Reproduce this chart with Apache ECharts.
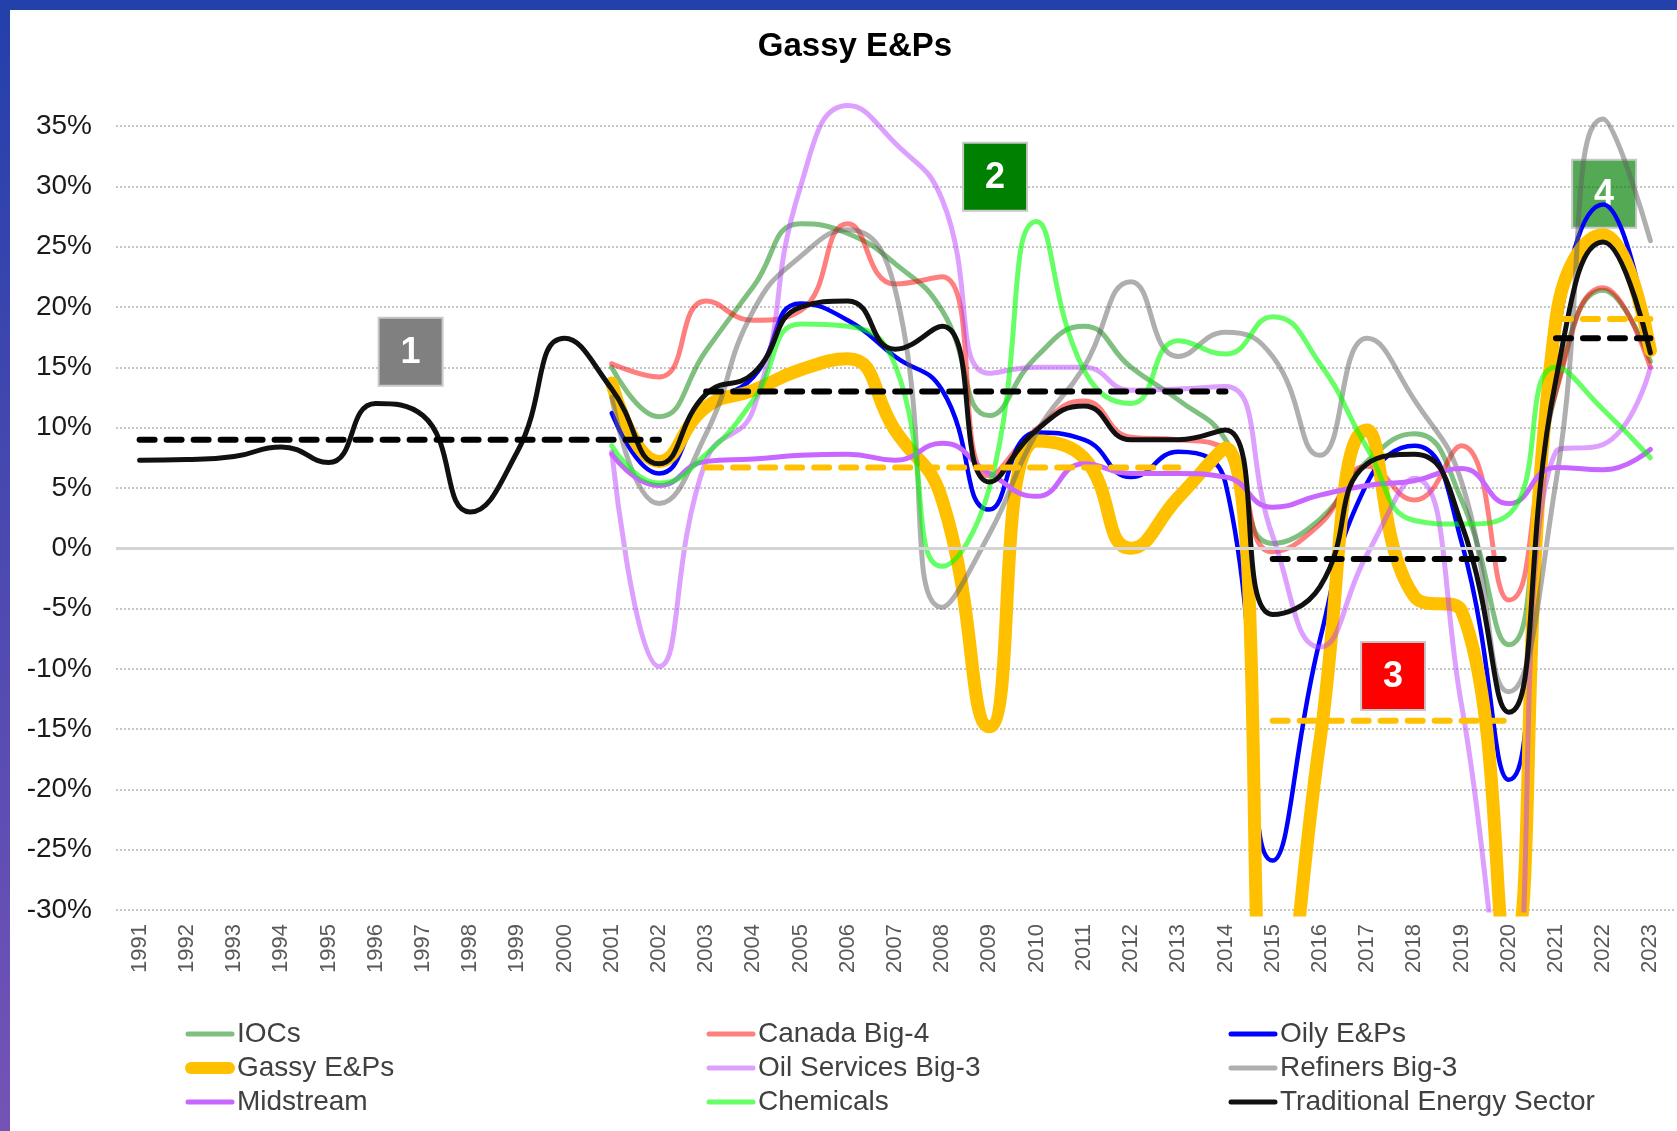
<!DOCTYPE html>
<html>
<head>
<meta charset="utf-8">
<title>Gassy E&amp;Ps</title>
<script src="https://cdn.jsdelivr.net/npm/echarts@6/dist/echarts.min.js"></script>
<style>
	html, body { margin: 0; padding: 0; }
	body {
		width: 1677px; height: 1131px; overflow: hidden; position: relative;
		background: linear-gradient(180deg, #2340ab 0%, #7553b6 100%);
	}
	#chart { position: absolute; left: 10px; top: 10px; width: 1667px; height: 1121px; background: #fff; }
</style>
</head>
<body>
<div id="chart"></div>
<script>
// categories (years)
var years = ['1991', '1992', '1993', '1994', '1995', '1996', '1997', '1998', '1999', '2000',
	'2001', '2002', '2003', '2004', '2005', '2006', '2007', '2008', '2009', '2010',
	'2011', '2012', '2013', '2014', '2015', '2016', '2017', '2018', '2019', '2020',
	'2021', '2022', '2023'];

// yearly values, % (1991 .. 2023)
var iocs = [null, null, null, null, null, null, null, null, null, null,
	15.0, 10.9, 16.4, 21.7, 26.9, 26.1, 23.6, 19.7, 11.0, 15.9,
	18.4, 15.0, 12.3, 9.0, 0.4, 2.4, 7.2, 9.5, 4.0, -8.0,
	13.0, 21.4, 15.5];
var canadaBig4 = [null, null, null, null, null, null, null, null, null, null,
	15.3, 14.2, 20.5, 18.9, 19.7, 26.9, 21.9, 22.5, 6.0, 9.9,
	12.2, 9.2, 9.0, 8.2, -0.3, 2.0, 6.8, 4.0, 8.5, -4.3,
	13.0, 21.6, 15.0];
var oilyEPs = [null, null, null, null, null, null, null, null, null, null,
	11.2, 6.2, 11.7, 14.2, 20.3, 18.9, 15.9, 13.1, 3.2, 9.6,
	9.0, 5.9, 8.0, 5.4, -25.9, -7.6, 5.4, 8.5, 0.5, -19.2,
	17.0, 28.5, 16.7];
var gassyEPs = [null, null, null, null, null, null, null, null, null, null,
	13.7, 7.2, 11.7, 13.1, 14.8, 15.7, 9.8, 4.0, -14.8, 8.9,
	7.5, 0.0, 4.2, 8.3, -45.0, -16.0, 9.8, -4.0, -5.2, -34.0,
	19.0, 26.0, 16.4];
var oilServices = [null, null, null, null, null, null, null, null, null, null,
	8.0, -9.8, 7.3, 11.5, 30.0, 36.7, 33.6, 28.9, 14.5, 15.0,
	15.0, 13.1, 13.2, 13.4, 1.0, -8.2, -0.5, 5.8, -13.0, -38.0,
	8.0, 8.6, 15.0];
var refiners = [null, null, null, null, null, null, null, null, null, null,
	12.5, 3.7, 9.5, 19.7, 24.2, 26.4, 21.5, -4.9, 1.2, 9.6,
	15.0, 22.1, 15.9, 17.9, 15.9, 7.7, 17.4, 12.3, 5.5, -11.9,
	5.5, 35.6, 25.5];
var midstream = [null, null, null, null, null, null, null, null, null, null,
	7.8, 5.2, 7.2, 7.4, 7.7, 7.8, 7.3, 8.7, 6.2, 4.3,
	7.0, 6.2, 6.2, 5.9, 3.4, 4.4, 5.2, 5.6, 6.6, 3.7,
	6.7, 6.5, 8.2];
var chemicals = [null, null, null, null, null, null, null, null, null, null,
	8.5, 5.4, 7.8, 12.3, 18.6, 18.4, 15.2, -1.5, 5.0, 27.1,
	14.8, 12.0, 17.2, 16.1, 19.2, 15.3, 8.3, 2.3, 2.0, 2.8,
	15.0, 11.5, 7.5];
var traditional = [7.3, 7.35, 7.6, 8.4, 7.1, 12.0, 11.0, 3.0, 8.0, 17.4,
	13.2, 7.0, 12.8, 14.5, 20.0, 20.5, 16.5, 18.4, 5.5, 9.8,
	11.8, 9.0, 9.0, 9.8, -5.5, -3.2, 7.0, 7.8, 2.0, -13.6,
	14.0, 25.4, 16.2];

// period averages: [first year, last year, level %]
var tradAverages = [['1991', '2002', 9.0], ['2003', '2014', 13.0], ['2015', '2020', -0.9], ['2021', '2023', 17.4]];
var gassyAverages = [['2003', '2013', 6.7], ['2015', '2020', -14.3], ['2021', '2023', 19.0]];

// numbered period boxes
var noteLabels = ['1', '2', '3', '4'];

var FONT = '"Liberation Sans", Arial, sans-serif';

var lineDefs = [
	{ name: 'IOCs', data: iocs, color: 'rgba(0,128,0,0.5)', width: 5 },
	{ name: 'Canada Big-4', data: canadaBig4, color: 'rgba(255,0,0,0.5)', width: 5 },
	{ name: 'Oily E&Ps', data: oilyEPs, color: '#0000ff', width: 4.5 },
	{ name: 'Gassy E&Ps', data: gassyEPs, color: '#ffc000', width: 13 },
	{ name: 'Oil Services Big-3', data: oilServices, color: 'rgba(187,65,255,0.5)', width: 5 },
	{ name: 'Refiners Big-3', data: refiners, color: 'rgba(96,96,96,0.5)', width: 5 },
	{ name: 'Midstream', data: midstream, color: '#c966ff', width: 5 },
	{ name: 'Chemicals', data: chemicals, color: 'rgba(0,255,0,0.6)', width: 5 },
	{ name: 'Traditional Energy Sector', data: traditional, color: '#111111', width: 5 }
];

// legend 图标: 圆头短线 (50x14 box)
var ICON_THIN = 'path://M0,0M50,14M3,4.5L47,4.5A2.5,2.5 0 0 1 47,9.5L3,9.5A2.5,2.5 0 0 1 3,4.5Z';
var ICON_THICK = 'path://M0,0M50,14M6,1L44,1A6,6 0 0 1 44,13L6,13A6,6 0 0 1 6,1Z';

function avgSeries(seg, color, idx) {
	var from = years.indexOf(seg[0]), to = years.indexOf(seg[1]);
	var d = years.map(function (y, i) { return (i >= from && i <= to) ? seg[2] : null; });
	return {
		name: 'avg' + idx,
		type: 'line',
		data: d,
		symbol: 'none',
		silent: true,
		z: 5,
		lineStyle: { color: color, width: 6, type: [15, 12], cap: 'round' }
	};
}

var series = lineDefs.map(function (s, i) {
	var o = {
		name: s.name,
		type: 'line',
		data: s.data,
		smooth: 0.5,
		symbol: 'none',
		connectNulls: false,
		silent: true,
		z: 2,
		itemStyle: { color: s.color },
		lineStyle: { color: s.color, width: s.width, cap: 'round', join: 'round' }
	};
	if (i === 0) {
		//0% 基线
		o.markLine = {
			silent: true, symbol: 'none', label: { show: false },
			lineStyle: { color: '#d4d4d4', type: 'solid', width: 3 },
			data: [{ yAxis: 0 }]
		};
	}
	return o;
});
gassyAverages.forEach(function (seg, i) { series.push(avgSeries(seg, '#ffc000', 'g' + i)); });
tradAverages.forEach(function (seg, i) { series.push(avgSeries(seg, '#000000', 't' + i)); });

function legendCol(left, names) {
	return {
		orient: 'vertical',
		left: left,
		top: 1010,
		padding: 0,
		itemWidth: 50,
		itemHeight: 14,
		itemGap: 6,
		selectedMode: false,
		data: names.map(function (n) {
			return { name: n, icon: n === 'Gassy E&Ps' ? ICON_THICK : ICON_THIN };
		}),
		textStyle: { fontSize: 28, color: '#404040', fontFamily: FONT, padding: [0, 0, 0, -3] }
	};
}

var chart = echarts.init(document.getElementById('chart'));
chart.setOption({
	animation: false,
	backgroundColor: '#ffffff',
	title: {
		text: 'Gassy E&Ps',
		left: 845,
		textAlign: 'center',
		top: 20,
		padding: 0,
		textStyle: { fontSize: 33, fontWeight: 'bold', color: '#000', fontFamily: FONT }
	},
	// 35% 处在 y=116, 上端留到 37% 以免峰值被截
	grid: { left: 106, right: 3, top: 92, height: 808, containLabel: false },
	xAxis: {
		type: 'category',
		data: years,
		boundaryGap: true,
		axisLine: { show: false },
		axisTick: { show: false },
		axisLabel: { rotate: 90, margin: 14, fontSize: 22, color: '#595959', fontFamily: FONT, interval: 0 }
	},
	yAxis: {
		type: 'value',
		min: -30,
		max: 37,
		interval: 5,
		axisLine: { show: false },
		axisTick: { show: false },
		axisLabel: {
			formatter: '{value}%', margin: 24, fontSize: 28, color: '#1a1a1a', fontFamily: FONT,
			showMaxLabel: false
		},
		splitLine: { showMaxLine: false, lineStyle: { color: '#b4b4b4', width: 1.5, type: [2, 2] } }
	},
	legend: [
		legendCol(175, ['IOCs', 'Gassy E&Ps', 'Midstream']),
		legendCol(696, ['Canada Big-4', 'Oil Services Big-3', 'Chemicals']),
		legendCol(1218, ['Oily E&Ps', 'Refiners Big-3', 'Traditional Energy Sector'])
	],
	series: series
});

// 编号方框, 按数据坐标定位
var notePos = [[5.74, 16.3], [18.12, 30.8], [26.55, -10.6], [31.02, 29.4]];
var noteFill = ['#808080', '#008000', '#ff0000', 'rgba(0,128,0,0.67)'];

function toPx(idx, val) {
	var i0 = Math.floor(idx), f = idx - i0;
	var p0 = chart.convertToPixel({ gridIndex: 0 }, [i0, val]);
	var p1 = chart.convertToPixel({ gridIndex: 0 }, [i0 + 1, val]);
	return [p0[0] + f * (p1[0] - p0[0]), p0[1]];
}

chart.setOption({
	graphic: noteLabels.map(function (t, i) {
		var c = toPx(notePos[i][0], notePos[i][1]);
		return {
			type: 'group', x: c[0], y: c[1], z: 100,
			children: [{
				type: 'rect',
				shape: { x: -32, y: -34, width: 64, height: 68 },
				style: { fill: noteFill[i], stroke: '#c8c8c8', lineWidth: 2 }
			}, {
				type: 'text',
				style: {
					text: t, x: 0, y: 1,
					textAlign: 'center', textVerticalAlign: 'middle',
					align: 'center', verticalAlign: 'middle',
					fill: '#ffffff', font: 'bold 36px ' + FONT
				}
			}]
		};
	})
});
</script>
</body>
</html>
